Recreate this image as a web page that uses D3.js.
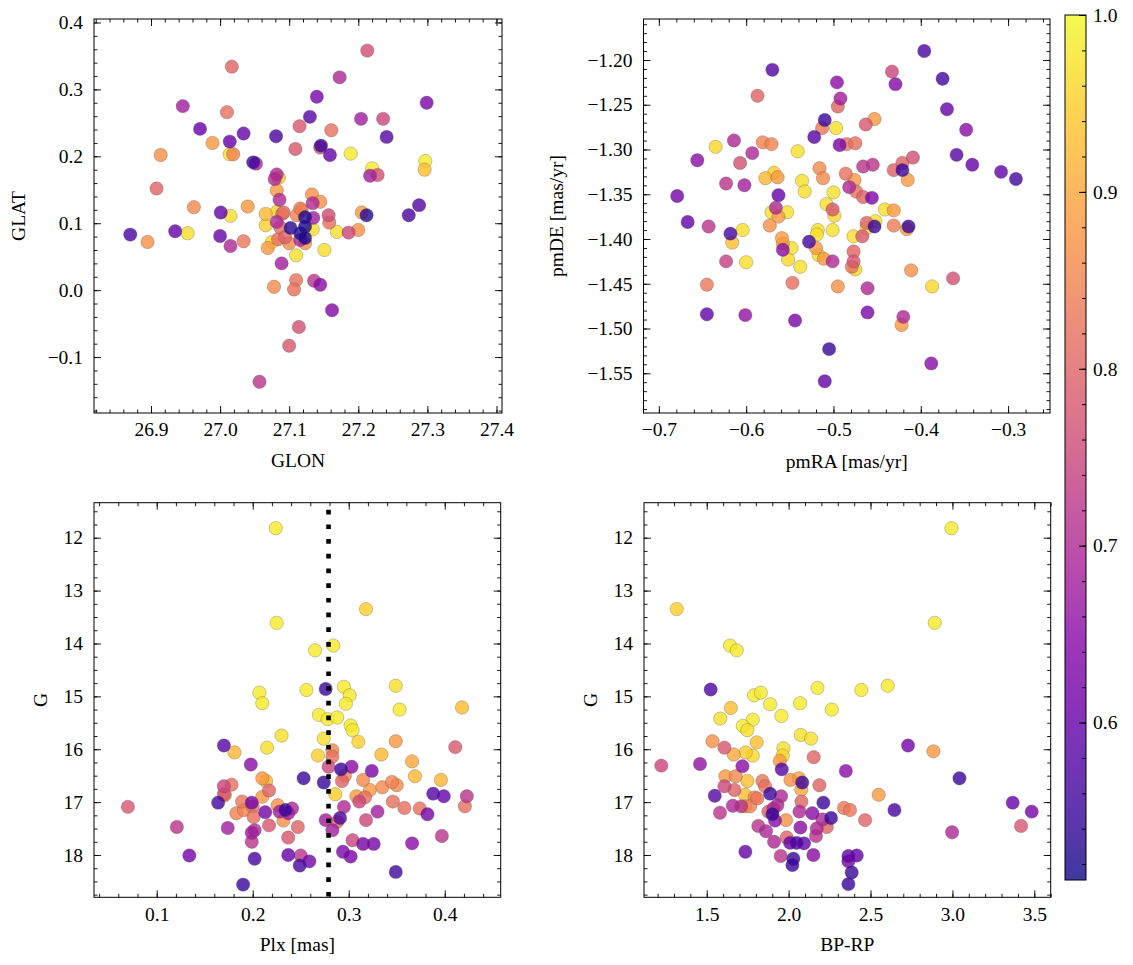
<!DOCTYPE html>
<html><head><meta charset="utf-8">
<script src="https://cdn.jsdelivr.net/npm/d3@7"></script>
<style>body{margin:0;background:#fff}svg{display:block}svg text{font-family:'Liberation Serif','DejaVu Serif','Times New Roman',serif !important;fill:#000}</style>
</head><body>
<svg id="c" width="1133" height="965" font-family="'Liberation Serif','DejaVu Serif',serif"></svg>
<script>
// ---- Data ----
const glon = [27.017,26.946,27.010,26.971,27.034,27.081,27.014,26.989,27.115,27.109,
26.914,27.014,27.019,27.048,27.052,26.908,27.085,27.082,27.079,27.082,
27.086,26.962,27.040,27.001,27.015,27.066,26.870,26.895,26.935,26.953,
27.000,27.015,27.034,27.066,27.082,27.102,27.090,27.075,27.069,27.084,
27.100,27.110,27.089,27.078,27.110,27.107,27.114,27.100,27.057,27.213,
27.173,27.140,27.299,27.130,27.161,27.204,27.236,27.241,27.146,27.145,
27.159,27.189,27.220,27.217,27.228,27.297,27.296,27.288,27.273,27.212,
27.205,27.133,27.145,27.134,27.157,27.158,27.169,27.186,27.200,27.123,
27.123,27.123,27.135,27.134,27.151,27.136,27.145,27.162,27.082,27.092,
27.111,27.118,27.116,27.116,27.087,27.094,27.116,27.123];
const glat = [0.334,0.275,0.266,0.241,0.234,0.230,0.222,0.220,0.245,0.211,
0.202,0.203,0.203,0.191,0.189,0.152,0.168,0.173,0.166,0.149,
0.135,0.124,0.125,0.116,0.111,0.114,0.083,0.072,0.088,0.085,
0.081,0.066,0.073,0.097,0.102,0.093,0.114,0.072,0.063,0.076,
0.070,0.052,0.040,0.005,0.015,0.001,-0.055,-0.083,-0.137,0.358,
0.318,0.289,0.280,0.259,0.239,0.256,0.256,0.229,0.216,0.213,
0.202,0.204,0.182,0.171,0.172,0.193,0.180,0.127,0.112,0.112,
0.116,0.143,0.132,0.130,0.112,0.101,0.087,0.086,0.090,0.109,
0.095,0.078,0.108,0.091,0.060,0.014,0.008,-0.030,0.117,0.116,
0.112,0.120,0.122,0.085,0.094,0.079,0.075,0.070];
const probTL = [0.80,0.68,0.82,0.60,0.60,0.57,0.60,0.88,0.78,0.78,
0.87,0.97,0.85,0.55,0.70,0.80,0.95,0.70,0.70,0.88,
0.70,0.86,0.88,0.60,0.97,0.92,0.57,0.87,0.60,0.97,
0.60,0.70,0.83,0.95,0.70,0.53,0.82,0.96,0.88,0.82,
0.86,0.97,0.68,0.86,0.82,0.82,0.77,0.78,0.72,0.77,
0.70,0.62,0.63,0.58,0.82,0.68,0.75,0.58,0.55,0.77,
0.60,0.98,0.98,0.68,0.77,0.98,0.93,0.58,0.57,0.53,
0.88,0.87,0.87,0.70,0.76,0.82,0.97,0.75,0.87,0.52,
0.52,0.52,0.68,0.97,0.97,0.72,0.65,0.64,0.95,0.82,
0.85,0.86,0.84,0.53,0.82,0.80,0.70,0.87];

const pmra = [-0.570,-0.587,-0.496,-0.492,-0.495,-0.510,-0.513,-0.497,-0.522,-0.493,
-0.635,-0.614,-0.581,-0.571,-0.593,-0.541,-0.656,-0.607,-0.516,-0.512,
-0.568,-0.564,-0.578,-0.536,-0.533,-0.623,-0.602,-0.679,-0.563,-0.500,
-0.508,-0.501,-0.566,-0.553,-0.571,-0.667,-0.396,-0.375,-0.433,-0.429,
-0.370,-0.348,-0.359,-0.341,-0.308,-0.291,-0.463,-0.453,-0.485,-0.475,
-0.466,-0.455,-0.431,-0.421,-0.409,-0.421,-0.415,-0.486,-0.476,-0.482,
-0.474,-0.466,-0.456,-0.441,-0.431,-0.462,-0.452,-0.453,-0.462,-0.431,
-0.414,-0.416,-0.477,-0.467,-0.477,-0.477,-0.479,-0.475,-0.461,-0.461,
-0.411,-0.387,-0.363,-0.420,-0.422,-0.388,-0.495,-0.643,-0.618,-0.604,
-0.616,-0.623,-0.600,-0.645,-0.645,-0.601,-0.573,-0.563,-0.559,-0.558,
-0.558,-0.548,-0.552,-0.538,-0.547,-0.544,-0.528,-0.518,-0.519,-0.517,
-0.520,-0.511,-0.499,-0.501,-0.501,-0.505,-0.510];
const pmde = [-1.211,-1.240,-1.225,-1.243,-1.252,-1.267,-1.276,-1.276,-1.286,-1.295,
-1.297,-1.290,-1.292,-1.294,-1.304,-1.302,-1.312,-1.315,-1.321,-1.332,
-1.326,-1.331,-1.332,-1.335,-1.347,-1.338,-1.340,-1.352,-1.351,-1.348,
-1.361,-1.367,-1.365,-1.370,-1.370,-1.381,-1.190,-1.221,-1.213,-1.227,
-1.255,-1.278,-1.306,-1.317,-1.325,-1.333,-1.272,-1.266,-1.294,-1.293,
-1.319,-1.317,-1.323,-1.315,-1.309,-1.323,-1.334,-1.327,-1.334,-1.342,
-1.347,-1.353,-1.354,-1.367,-1.368,-1.382,-1.380,-1.386,-1.388,-1.385,
-1.386,-1.389,-1.397,-1.397,-1.414,-1.425,-1.431,-1.434,-1.455,-1.482,
-1.435,-1.453,-1.444,-1.487,-1.496,-1.539,-1.453,-1.386,-1.394,-1.390,
-1.404,-1.425,-1.426,-1.451,-1.484,-1.485,-1.385,-1.375,-1.399,-1.405,
-1.412,-1.410,-1.423,-1.431,-1.449,-1.491,-1.403,-1.390,-1.395,-1.418,
-1.410,-1.422,-1.374,-1.390,-1.425,-1.523,-1.559];
const probTR = [0.58,0.80,0.65,0.68,0.80,0.55,0.83,0.97,0.58,0.63,
0.96,0.70,0.85,0.85,0.70,0.97,0.65,0.77,0.86,0.86,
0.95,0.88,0.92,0.97,0.97,0.72,0.68,0.62,0.60,0.97,
0.97,0.78,0.70,0.97,0.97,0.60,0.57,0.56,0.75,0.64,
0.60,0.65,0.58,0.60,0.60,0.56,0.78,0.88,0.82,0.82,
0.72,0.72,0.80,0.80,0.77,0.55,0.88,0.82,0.88,0.70,
0.82,0.80,0.63,0.97,0.88,0.80,0.97,0.55,0.97,0.84,
0.55,0.88,0.97,0.78,0.80,0.78,0.82,0.96,0.70,0.63,
0.87,0.96,0.77,0.70,0.88,0.65,0.87,0.72,0.56,0.97,
0.93,0.74,0.97,0.83,0.60,0.66,0.87,0.88,0.88,0.90,
0.65,0.97,0.96,0.97,0.82,0.63,0.56,0.97,0.97,0.97,
0.88,0.88,0.96,0.97,0.70,0.55,0.60];

const plx = [0.224,0.318,0.225,0.284,0.265,0.349,0.353,0.418,0.207,0.210,
0.256,0.276,0.295,0.301,0.297,0.269,0.278,0.288,0.302,0.304,
0.310,0.274,0.230,0.215,0.170,0.181,0.268,0.283,0.283,0.279,
0.349,0.334,0.366,0.369,0.396,0.411,0.198,0.292,0.303,0.324,
0.293,0.296,0.253,0.274,0.210,0.214,0.178,0.170,0.171,0.217,
0.210,0.286,0.315,0.322,0.308,0.317,0.311,0.335,0.345,0.350,
0.388,0.399,0.423,0.421,0.346,0.358,0.374,0.382,0.330,0.318,
0.295,0.291,0.288,0.276,0.283,0.304,0.315,0.326,0.366,0.397,
0.294,0.302,0.349,0.070,0.121,0.134,0.164,0.174,0.190,0.170,
0.189,0.199,0.183,0.191,0.200,0.201,0.213,0.217,0.202,0.199,
0.199,0.202,0.226,0.228,0.234,0.237,0.241,0.232,0.247,0.237,
0.237,0.250,0.249,0.259];
const gmagL = [11.82,13.35,13.61,14.04,14.13,14.80,15.25,15.21,14.93,15.13,
14.88,14.86,14.82,14.98,15.14,15.35,15.43,15.40,15.55,15.64,
15.86,15.80,15.74,15.97,15.93,16.06,16.12,16.02,16.14,16.33,
15.85,16.10,16.23,16.51,16.58,15.96,16.29,16.38,16.33,16.41,
16.60,16.50,16.55,16.63,16.55,16.60,16.67,16.70,16.87,16.78,
16.90,16.85,16.58,16.77,16.89,16.91,16.99,16.72,16.62,16.68,
16.84,16.89,16.89,17.08,16.99,17.11,17.12,17.23,17.18,17.34,
17.09,17.30,17.37,17.34,17.53,17.72,17.79,17.79,17.78,17.64,
17.94,18.03,18.32,17.09,17.47,18.01,17.01,17.49,18.56,16.85,
16.99,17.01,17.21,17.15,17.08,17.28,17.19,17.44,17.53,17.58,
17.75,18.07,17.06,17.18,17.15,17.21,17.12,17.35,17.47,17.67,
18.00,18.01,18.20,18.12];
const probBL = [0.98,0.95,0.98,0.98,0.98,0.97,0.98,0.93,0.98,0.98,
0.98,0.55,0.98,0.98,0.98,0.98,0.98,0.98,0.98,0.98,
0.95,0.97,0.97,0.97,0.58,0.92,0.95,0.86,0.82,0.75,
0.88,0.92,0.90,0.92,0.92,0.78,0.65,0.55,0.65,0.63,
0.80,0.85,0.55,0.55,0.88,0.92,0.82,0.75,0.87,0.80,
0.88,0.95,0.86,0.88,0.88,0.82,0.75,0.86,0.85,0.86,
0.58,0.60,0.72,0.82,0.82,0.82,0.82,0.62,0.68,0.75,
0.70,0.57,0.82,0.68,0.68,0.75,0.62,0.62,0.65,0.72,
0.63,0.63,0.56,0.78,0.72,0.62,0.56,0.68,0.55,0.78,
0.83,0.62,0.85,0.85,0.82,0.82,0.62,0.78,0.70,0.68,
0.72,0.57,0.87,0.68,0.55,0.68,0.70,0.87,0.80,0.78,
0.60,0.72,0.57,0.62];
const plxCut = 0.279;

const bprp = [2.994,1.317,2.892,1.642,1.683,1.524,1.789,1.830,1.887,2.070,
2.176,2.444,2.605,2.263,1.647,1.583,1.781,1.720,1.748,1.956,
2.074,2.137,1.805,1.535,1.608,1.665,1.738,1.781,1.968,1.964,
1.946,2.153,2.729,2.884,3.043,1.223,1.459,1.718,1.958,2.349,
1.614,1.677,1.608,1.669,1.748,1.840,1.856,1.734,1.792,1.887,
1.954,2.011,2.062,2.083,2.077,2.188,1.549,1.659,1.734,1.765,
1.809,1.581,1.876,1.907,1.901,1.931,1.984,1.917,2.078,2.066,
2.145,2.212,2.259,2.206,2.233,2.172,2.072,2.338,2.375,2.467,
2.550,2.646,3.368,3.484,3.419,2.998,1.815,1.862,1.911,1.988,
2.009,2.049,2.094,2.167,2.151,1.952,1.736,2.029,2.023,2.365,
2.416,2.365,2.385,2.365,1.710];
const gmagR = [11.82,13.35,13.61,14.04,14.13,14.87,14.98,14.93,15.15,15.13,
14.84,14.88,14.80,15.25,15.22,15.42,15.44,15.56,15.64,15.37,
15.73,15.80,15.87,15.85,15.97,16.10,16.06,16.12,15.98,16.12,
16.22,16.15,15.93,16.04,16.55,16.31,16.28,16.32,16.38,16.41,
16.51,16.51,16.70,16.77,16.60,16.60,16.70,16.86,16.91,16.84,
16.89,16.58,16.55,16.63,16.76,16.68,16.88,17.07,17.08,17.08,
16.93,17.20,17.18,17.12,17.23,17.06,17.34,17.35,16.99,17.18,
17.21,17.01,17.30,17.33,17.47,17.50,17.48,17.11,17.15,17.34,
16.86,17.15,17.01,17.18,17.45,17.57,17.45,17.55,17.75,17.67,
17.77,17.77,17.78,17.64,18.00,18.02,17.94,18.07,18.19,18.02,
18.01,18.12,18.33,18.55,17.08];
const probBR = [0.98,0.95,0.98,0.98,0.98,0.57,0.98,0.98,0.98,0.98,
0.98,0.98,0.98,0.98,0.93,0.97,0.98,0.98,0.97,0.98,
0.97,0.97,0.93,0.87,0.78,0.90,0.95,0.96,0.97,0.96,
0.88,0.80,0.62,0.88,0.55,0.75,0.66,0.65,0.58,0.65,
0.88,0.86,0.75,0.80,0.93,0.83,0.82,0.93,0.85,0.55,
0.70,0.87,0.90,0.55,0.90,0.80,0.58,0.70,0.87,0.85,
0.83,0.72,0.80,0.70,0.55,0.70,0.87,0.65,0.80,0.70,
0.65,0.55,0.55,0.70,0.80,0.70,0.65,0.83,0.83,0.80,
0.88,0.57,0.60,0.62,0.78,0.70,0.72,0.70,0.70,0.80,
0.60,0.57,0.60,0.72,0.65,0.72,0.60,0.55,0.55,0.60,
0.60,0.62,0.55,0.55,0.72];

// tick labels
const glonTicks = [26.9,27.0,27.1,27.2,27.3,27.4];
const glatTicks = [-0.1,0.0,0.1,0.2,0.3,0.4];
const pmraTicks = [-0.7,-0.6,-0.5,-0.4,-0.3];
const pmdeTicks = [-1.55,-1.50,-1.45,-1.40,-1.35,-1.30,-1.25,-1.20];
const plxTicks = [0.1,0.2,0.3,0.4];
const gTicks = [12,13,14,15,16,17,18];
const bprpTicks = [1.5,2.0,2.5,3.0,3.5];
const cbarTicks = [0.6,0.7,0.8,0.9,1.0];
const probRange = [0.511, 1.0];

// ---- Drawing ----
const FONT = "'Liberation Serif','DejaVu Serif',serif";
const svg = d3.select("#c");
svg.append("rect").attr("width",1133).attr("height",965).attr("fill","#fff");
const FS = 19.5;
const col = d3.scaleSequential(d3.interpolatePlasma).domain(probRange);

function ticksBetween(dom, step){
  const lo = Math.min(dom[0],dom[1]), hi = Math.max(dom[0],dom[1]);
  const out = [];
  for (let k = Math.ceil(lo/step - 1e-9); k*step <= hi + 1e-9; k++) out.push(+(k*step).toFixed(6));
  return out;
}
function styleText(sel){
  sel.attr("font-family",FONT).style("font-family",FONT).style("font-size",FS+"px").attr("fill","#000");
}

function panel(o){
  const x = d3.scaleLinear().domain(o.xd).range([o.L,o.R]);
  const y = d3.scaleLinear().domain(o.yd).range([o.B,o.T]);
  const g = svg.append("g");
  const xMin = ticksBetween(o.xd,o.xMinor), yMin = ticksBetween(o.yd,o.yMinor);
  function ax(gen, tr, vals, size, fmt, pad){
    const a = g.append("g").attr("transform",tr)
      .call(gen.tickValues(vals).tickSizeInner(-size).tickSizeOuter(0).tickPadding(pad||3).tickFormat(fmt||""));
    a.attr("font-family",FONT);
    a.select(".domain").remove();
    a.selectAll("line").attr("stroke","#000").attr("stroke-width",0.9);
    styleText(a.selectAll("text"));
    return a;
  }
  const idx = d3.range(o.xs.length).sort((a,b)=>o.ps[b]-o.ps[a]);
  g.append("g").selectAll("circle").data(idx).join("circle")
    .attr("cx",i=>x(o.xs[i])).attr("cy",i=>y(o.ys[i])).attr("r",6.7)
    .attr("fill",i=>col(o.ps[i])).attr("fill-opacity",0.8)
    .attr("stroke","#505050").attr("stroke-opacity",0.6).attr("stroke-width",0.5);
  if (o.extra) o.extra(g,x,y);
  ax(d3.axisBottom(x), `translate(0,${o.B})`, xMin, 3.5);
  ax(d3.axisTop(x), `translate(0,${o.T})`, xMin, 3.5);
  ax(d3.axisLeft(y), `translate(${o.L},0)`, yMin, 3.5);
  ax(d3.axisRight(y), `translate(${o.R},0)`, yMin, 3.5);
  ax(d3.axisBottom(x), `translate(0,${o.B})`, o.xTicks, 7, d3.format(o.xFmt), 9.5);
  ax(d3.axisTop(x), `translate(0,${o.T})`, o.xTicks, 7);
  ax(d3.axisLeft(y), `translate(${o.L},0)`, o.yTicks, 7, d3.format(o.yFmt), 11);
  ax(d3.axisRight(y), `translate(${o.R},0)`, o.yTicks, 7);
  g.append("rect").attr("x",o.L).attr("y",o.T).attr("width",o.R-o.L).attr("height",o.B-o.T)
    .attr("fill","none").attr("stroke","#000").attr("stroke-width",1);
  styleText(g.append("text").attr("x",(o.L+o.R)/2).attr("y",o.xLabY).attr("text-anchor","middle")
    .attr("dominant-baseline","central").text(o.xLab));
  styleText(g.append("text").attr("transform",`translate(${o.yLabX},${(o.T+o.B)/2}) rotate(-90)`)
    .attr("text-anchor","middle").attr("dominant-baseline","central").text(o.yLab));
}

panel({L:94,R:502,T:19,B:413,xd:[26.8175,27.408],yd:[-0.1836,0.4052],
  xs:glon,ys:glat,ps:probTL,xTicks:glonTicks,yTicks:glatTicks,xMinor:0.02,yMinor:0.02,
  xFmt:".1f",yFmt:".1f",xLab:"GLON",yLab:"GLAT",xLabY:460,yLabX:18});
panel({L:643.5,R:1050,T:19,B:413,xd:[-0.7176,-0.252],yd:[-1.5944,-1.1542],
  xs:pmra,ys:pmde,ps:probTR,xTicks:pmraTicks,yTicks:pmdeTicks,xMinor:0.02,yMinor:0.01,
  xFmt:".1f",yFmt:".2f",xLab:"pmRA [mas/yr]",yLab:"pmDE [mas/yr]",xLabY:461,yLabX:556});
panel({L:94,R:500.7,T:502.7,B:897.3,xd:[0.0347,0.4583],yd:[18.8,11.338],
  xs:plx,ys:gmagL,ps:probBL,xTicks:plxTicks,yTicks:gTicks,xMinor:0.02,yMinor:0.25,
  xFmt:".1f",yFmt:"d",xLab:"Plx [mas]",yLab:"G",xLabY:944,yLabX:40,
  extra:(g,x,y)=>{
    g.append("line").attr("x1",x(plxCut)).attr("x2",x(plxCut)).attr("y1",y.range()[1]).attr("y2",y.range()[0])
      .attr("stroke","#000").attr("stroke-width",4.6).attr("stroke-dasharray","4.7 10")
      .attr("stroke-dashoffset",-7);
  }});
panel({L:644,R:1050.7,T:502.7,B:897.3,xd:[1.117,3.6],yd:[18.8,11.338],
  xs:bprp,ys:gmagR,ps:probBR,xTicks:bprpTicks,yTicks:gTicks,xMinor:0.1,yMinor:0.25,
  xFmt:".1f",yFmt:"d",xLab:"BP-RP",yLab:"G",xLabY:944,yLabX:590});

// colorbar
const cb = {L:1065,R:1086,T:15,B:880};
const cy = d3.scaleLinear().domain(probRange).range([cb.B,cb.T]);
const grad = svg.append("defs").append("linearGradient").attr("id","cbg")
  .attr("x1",0).attr("y1",1).attr("x2",0).attr("y2",0);
d3.range(0,1.0001,0.02).forEach(t=>grad.append("stop").attr("offset",t)
  .attr("stop-color",d3.interpolatePlasma(t)).attr("stop-opacity",0.8));
svg.append("rect").attr("x",cb.L).attr("y",cb.T).attr("width",cb.R-cb.L).attr("height",cb.B-cb.T)
  .attr("fill","url(#cbg)");
const cbMinor = ticksBetween(probRange,0.02);
const ca = svg.append("g").attr("transform",`translate(${cb.R},0)`)
  .call(d3.axisRight(cy).tickValues(cbMinor).tickSizeInner(-4).tickSizeOuter(0).tickFormat(""));
ca.select(".domain").remove();
const cm = svg.append("g").attr("transform",`translate(${cb.R},0)`)
  .call(d3.axisRight(cy).tickValues(cbarTicks).tickSizeInner(-7).tickSizeOuter(0).tickPadding(7).tickFormat(d3.format(".1f")));
cm.select(".domain").remove();
svg.selectAll("g line").attr("stroke","#000");
styleText(cm.selectAll("text"));
svg.append("rect").attr("x",cb.L).attr("y",cb.T).attr("width",cb.R-cb.L).attr("height",cb.B-cb.T)
  .attr("fill","none").attr("stroke","#000").attr("stroke-width",1);
</script>
</body></html>
